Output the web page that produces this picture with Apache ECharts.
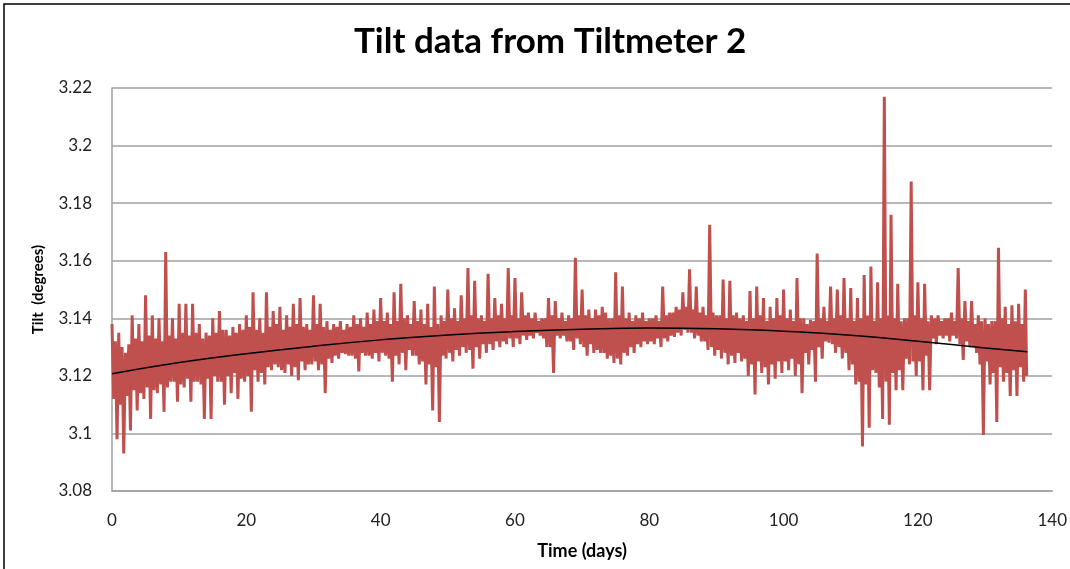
<!DOCTYPE html>
<html><head><meta charset="utf-8">
<script src="https://cdn.jsdelivr.net/npm/echarts@6/dist/echarts.min.js"></script>
<style>html,body{margin:0;padding:0;background:#fff}#c{width:1070px;height:569px}</style>
</head><body><div id="c"></div>
<script>
// Tilt readings per day (days 0..136): upper spike, lower spike, and the dense core band
const dayHigh = [3.138,3.135,3.128,3.141,3.138,3.148,3.141,3.140,3.163,3.140,
3.145,3.145,3.145,3.138,3.135,3.140,3.1425,3.136,3.137,3.138,
3.141,3.149,3.140,3.149,3.1425,3.144,3.141,3.145,3.147,3.138,
3.148,3.145,3.139,3.138,3.139,3.138,3.141,3.140,3.142,3.143,
3.147,3.142,3.149,3.152,3.141,3.146,3.143,3.145,3.151,3.141,
3.150,3.1435,3.148,3.1575,3.153,3.141,3.1555,3.147,3.145,3.1575,
3.154,3.149,3.142,3.142,3.140,3.147,3.146,3.142,3.141,3.161,
3.150,3.143,3.143,3.144,3.140,3.156,3.151,3.142,3.141,3.142,
3.140,3.141,3.151,3.142,3.144,3.149,3.157,3.151,3.144,3.1725,
3.141,3.1535,3.153,3.142,3.141,3.1495,3.151,3.147,3.144,3.147,
3.150,3.143,3.154,3.140,3.1395,3.1625,3.144,3.151,3.150,3.154,
3.1505,3.147,3.155,3.158,3.1525,3.217,3.176,3.152,3.140,3.1875,
3.1525,3.152,3.141,3.141,3.140,3.142,3.1575,3.146,3.146,3.141,
3.140,3.139,3.1645,3.144,3.1445,3.145,3.150];
const dayLow = [3.098,3.093,3.101,3.108,3.112,3.105,3.114,3.1075,3.118,3.111,
3.116,3.111,3.118,3.105,3.105,3.118,3.110,3.114,3.112,3.118,
3.1075,3.118,3.117,3.122,3.123,3.121,3.120,3.1185,3.122,3.124,
3.122,3.114,3.1245,3.126,3.1275,3.127,3.1215,3.127,3.126,3.125,
3.127,3.118,3.124,3.122,3.127,3.124,3.117,3.108,3.104,3.126,
3.125,3.127,3.128,3.1225,3.126,3.128,3.129,3.130,3.131,3.130,
3.131,3.1325,3.133,3.134,3.130,3.121,3.133,3.132,3.129,3.131,
3.127,3.128,3.128,3.126,3.1245,3.124,3.127,3.128,3.130,3.131,
3.131,3.130,3.132,3.1335,3.134,3.135,3.133,3.132,3.129,3.127,
3.126,3.124,3.1245,3.125,3.120,3.1135,3.121,3.117,3.119,3.121,
3.122,3.120,3.114,3.124,3.118,3.126,3.1315,3.128,3.126,3.122,
3.117,3.0955,3.102,3.121,3.105,3.103,3.115,3.115,3.124,3.120,
3.115,3.115,3.131,3.133,3.132,3.133,3.1255,3.130,3.128,3.0995,
3.117,3.104,3.118,3.113,3.113,3.118,3.120];
const coreHigh = [3.132,3.130,3.131,3.133,3.132,3.134,3.133,3.132,3.134,3.133,
3.135,3.134,3.135,3.133,3.134,3.135,3.136,3.134,3.135,3.136,
3.137,3.136,3.135,3.137,3.138,3.136,3.137,3.138,3.137,3.136,
3.138,3.137,3.136,3.137,3.136,3.137,3.138,3.137,3.138,3.139,
3.139,3.138,3.139,3.140,3.138,3.139,3.138,3.137,3.138,3.139,
3.140,3.139,3.140,3.141,3.140,3.139,3.140,3.141,3.140,3.141,
3.140,3.141,3.140,3.139,3.140,3.141,3.140,3.139,3.140,3.141,
3.141,3.140,3.141,3.142,3.140,3.141,3.140,3.139,3.140,3.139,
3.140,3.139,3.141,3.142,3.143,3.144,3.143,3.142,3.141,3.142,
3.141,3.140,3.141,3.140,3.139,3.140,3.141,3.139,3.140,3.141,
3.140,3.139,3.140,3.138,3.139,3.140,3.139,3.140,3.141,3.140,
3.139,3.140,3.141,3.139,3.140,3.141,3.140,3.139,3.140,3.141,
3.140,3.139,3.140,3.139,3.140,3.139,3.140,3.139,3.138,3.139,
3.138,3.139,3.140,3.138,3.139,3.138,3.139];
const coreLow = [3.112,3.110,3.113,3.115,3.114,3.116,3.115,3.117,3.116,3.118,
3.117,3.119,3.118,3.117,3.119,3.120,3.118,3.120,3.121,3.119,
3.120,3.122,3.121,3.123,3.124,3.122,3.124,3.123,3.125,3.124,
3.125,3.124,3.126,3.127,3.128,3.127,3.126,3.128,3.127,3.128,
3.128,3.126,3.127,3.128,3.129,3.127,3.125,3.124,3.123,3.127,
3.128,3.129,3.130,3.129,3.130,3.131,3.131,3.132,3.132,3.133,
3.133,3.134,3.134,3.135,3.133,3.130,3.134,3.134,3.132,3.133,
3.130,3.131,3.129,3.128,3.127,3.126,3.128,3.130,3.131,3.132,
3.132,3.133,3.133,3.134,3.135,3.136,3.135,3.134,3.132,3.130,
3.129,3.128,3.127,3.128,3.126,3.124,3.125,3.123,3.124,3.125,
3.125,3.126,3.124,3.128,3.129,3.130,3.132,3.131,3.130,3.128,
3.124,3.118,3.117,3.122,3.116,3.118,3.121,3.122,3.126,3.125,
3.125,3.127,3.133,3.134,3.134,3.134,3.131,3.132,3.130,3.124,
3.125,3.121,3.123,3.121,3.122,3.123,3.124];
// Polynomial trend line
const trendDays = [0,10,20,30,40,50,60,70,80,90,100,110,120,130,136.3];
const trendVals = [3.1207,3.1246,3.1277,3.1303,3.1325,3.1342,3.1354,3.1362,3.1366,3.1364,3.1355,3.1341,3.132,3.1297,3.1284];
const xTicks = {min:0, max:140, step:20};
const yTicks = {min:3.08, max:3.22, step:0.02};

const tilt = [];
const last = dayHigh.length - 1;
for (let d = 0; d <= last; d++) {
  tilt.push([d, dayHigh[d]]);
  if (d === last) { tilt.push([d + 0.2, dayLow[d]]); break; }
  tilt.push([d + 0.25, coreLow[d]]);
  tilt.push([d + 0.5, coreHigh[d]]);
  tilt.push([d + 0.75, dayLow[d]]);
}
const trend = trendDays.map((d, i) => [d, trendVals[i]]);

const FONT = 'Lato, "Open Sans", sans-serif';
const chart = echarts.init(document.getElementById('c'));
const lblFont = {fontFamily:FONT, fontSize:17, color:'#222'};
chart.setOption({
  animation:false,
  backgroundColor:'#fff',
  title:{text:'Tilt data from Tiltmeter 2', left:349, top:19,
    textStyle:{fontFamily:FONT, fontWeight:'bold', fontSize:35, color:'#000'}},
  grid:{left:112, right:14, top:88, bottom:78},
  xAxis:{type:'value', min:xTicks.min, max:xTicks.max, interval:xTicks.step,
    name:'Time (days)', nameLocation:'middle', nameGap:51,
    nameTextStyle:{fontFamily:FONT, fontWeight:'bold', fontSize:18, color:'#000'},
    axisLine:{lineStyle:{color:'#a0a0a0', width:1.5}}, axisTick:{show:false},
    axisLabel:Object.assign({margin:21}, lblFont),
    splitLine:{show:false}},
  yAxis:{type:'value', min:yTicks.min, max:yTicks.max, interval:yTicks.step,
    name:'Tilt  (degrees)', nameLocation:'middle', nameGap:66, nameRotate:90,
    nameTextStyle:{fontFamily:FONT, fontWeight:'bold', fontSize:15, color:'#000'},
    axisLine:{show:true, lineStyle:{color:'#a0a0a0', width:1.5}}, axisTick:{show:false},
    axisLabel:Object.assign({margin:20, formatter:v => String(+v.toFixed(2))}, lblFont),
    splitLine:{lineStyle:{color:'#a0a0a0', width:1.5}}},
  graphic:[{type:'rect', shape:{x:4, y:4, width:1090, height:600},
    style:{fill:'none', stroke:'#000', lineWidth:1.5}, silent:true}],
  series:[
    {type:'line', data:tilt, showSymbol:false, lineStyle:{color:'#c0504d', width:3}, z:2},
    {type:'line', data:trend, smooth:true, showSymbol:false, lineStyle:{color:'#000', width:1.5}, z:3}
  ]
});
</script></body></html>
